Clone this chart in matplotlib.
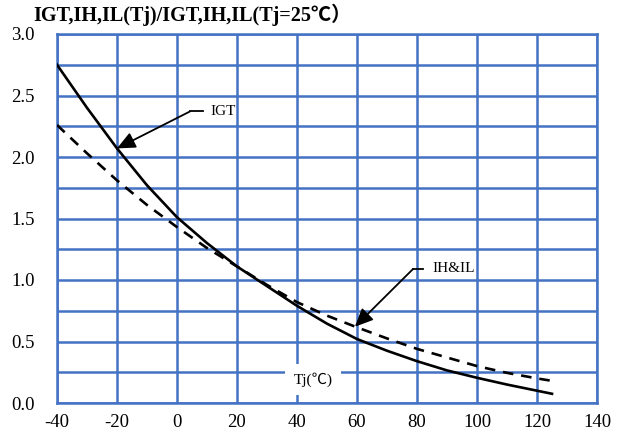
import numpy as np
import matplotlib
matplotlib.use('Agg')
import matplotlib.pyplot as plt

plt.rcParams['font.family'] = ['Liberation Serif', 'Noto Sans CJK SC', 'DejaVu Sans']

tj = [-40, -30, -20, -10, 0, 10, 20, 30, 40, 50, 60, 70, 80, 90, 100, 110, 120, 125]
igt = [2.75, 2.40, 2.07, 1.77, 1.51, 1.30, 1.11, 0.95, 0.79, 0.645, 0.52, 0.425, 0.34, 0.265, 0.205, 0.15, 0.10, 0.075]
ih_il = [2.26, 2.03, 1.81, 1.61, 1.43, 1.26, 1.11, 0.96, 0.82, 0.71, 0.615, 0.525, 0.44, 0.37, 0.30, 0.245, 0.20, 0.18]

x_ticks = list(range(-40, 141, 20))
y_ticks = [0.0, 0.5, 1.0, 1.5, 2.0, 2.5, 3.0]
title = 'IGT,IH,IL(Tj)/IGT,IH,IL(Tj=25℃）'

blue = '#4472C4'

fig = plt.figure(figsize=(6.21, 4.34), dpi=100)
ax = fig.add_axes([57 / 621, 31 / 434, 540 / 621, 369 / 434])

ax.plot(tj, igt, color='black', lw=1.9, zorder=3, solid_joinstyle='round')
ax.plot(tj, ih_il, color='black', lw=1.9, dashes=(4, 3), zorder=3)

ax.set_xlim(-40, 140)
ax.set_ylim(0, 3)
ax.set_xticks(x_ticks)
ax.set_xticklabels([str(v) for v in x_ticks])
ax.set_yticks(y_ticks)
ax.set_yticklabels([f'{v:.1f}' for v in y_ticks])
ax.set_yticks(np.arange(0, 3.01, 0.25), minor=True)
ax.tick_params(which='both', length=0, labelsize=13.5)
ax.tick_params(axis='y', pad=16)
ax.tick_params(axis='x', pad=8)
ax.grid(True, which='both', color=blue, lw=1.8, zorder=0)
for s in ax.spines.values():
    s.set_color(blue)
    s.set_linewidth(1.8)

arrow = dict(arrowstyle='-|>,head_length=1.1,head_width=0.5', color='black', lw=1.3,
             shrinkA=0, shrinkB=0)
ax.annotate('', xy=(-20, 2.07), xytext=(4.3, 2.37), arrowprops=arrow, zorder=4)
ax.plot([4.3, 8.7], [2.37, 2.37], color='black', lw=1.3, zorder=4)
ax.text(11.3, 2.37, 'IGT', fontsize=11, va='center', ha='left')

ax.annotate('', xy=(59.3, 0.62), xytext=(78.7, 1.09), arrowprops=arrow, zorder=4)
ax.plot([78.7, 82], [1.09, 1.09], color='black', lw=1.3, zorder=4)
ax.text(85.3, 1.09, 'IH&IL', fontsize=11, va='center', ha='left')

ax.text(45.3, 0.19, 'Tj(℃)', fontsize=11, va='center', ha='center', zorder=5,
        bbox=dict(facecolor='white', edgecolor='none', pad=6))

fig.text(33 / 621, 1 - 15 / 434, title, fontsize=14.5, fontweight='bold', va='center', ha='left')

fig.savefig('out.png', dpi=100)
